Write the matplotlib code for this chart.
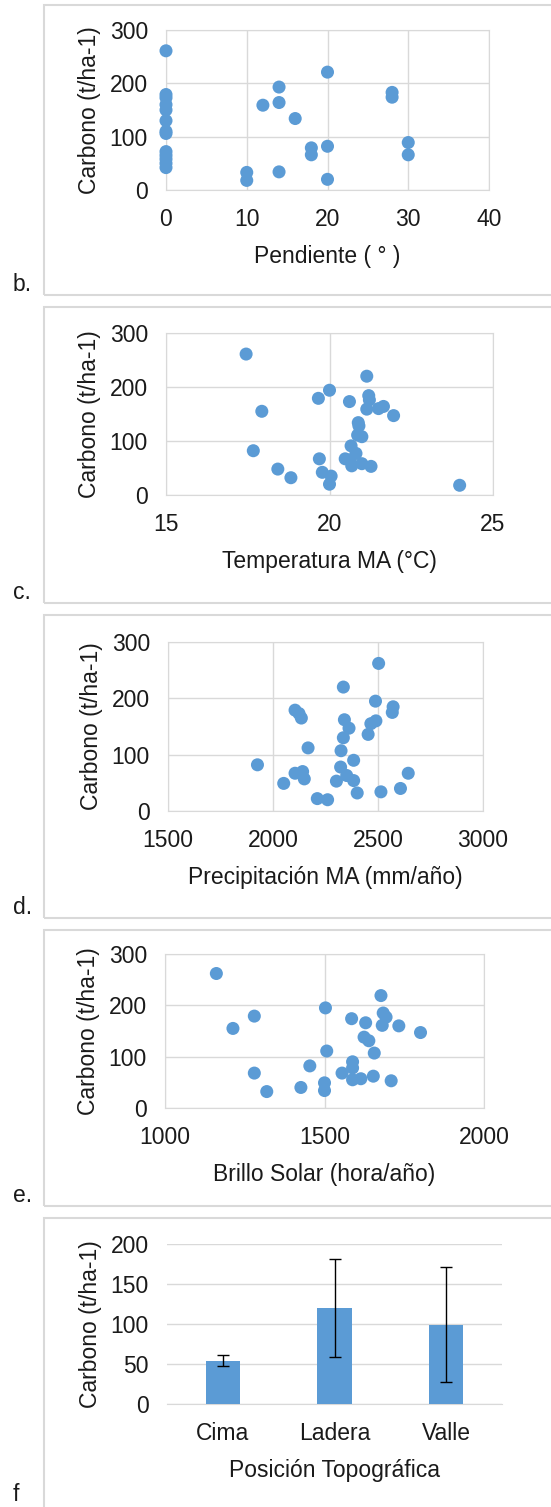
import numpy as np
import matplotlib
matplotlib.use("Agg")
import matplotlib.pyplot as plt
from matplotlib.patches import Rectangle

matplotlib.rcParams["font.family"] = ["Liberation Sans", "DejaVu Sans"]

# b. Pendiente
pend_x = [0, 0, 0, 0, 0, 0, 0, 0, 0, 0, 0, 0, 0, 10, 10, 12, 14, 14, 14, 16, 18, 18, 20, 20, 20, 28, 28, 30, 30]
pend_y = [261, 179, 173, 160, 150, 130, 110, 106, 72, 65, 58, 50, 42, 33, 18, 159, 193, 164, 34, 134, 79, 66, 221, 82, 20, 183, 174, 89, 66]

# c. Temperatura
temp_x = [17.45, 17.67, 17.93, 18.42, 18.82, 19.66, 19.69, 19.78, 20.0, 20.05, 20.0, 20.61, 20.48, 20.66,
          20.68, 20.81, 20.63, 20.88, 20.9, 20.86, 20.99, 20.99, 21.14, 21.2, 21.22, 21.14, 21.27, 21.5,
          21.65, 21.96, 23.98]
temp_y = [261, 82, 155, 48, 32, 179, 67, 42, 194, 35, 20, 173, 67, 91,
          54, 77, 65, 134, 128, 111, 108, 58, 220, 184, 176, 159, 53, 160,
          164, 147, 18]

# d. Precipitacion
prec_x = [2503, 2335, 2488, 2572, 2568, 2105, 2124, 2135, 2340, 2362, 2466, 2490, 2453, 2335, 2167, 2324,
          1926, 2384, 2322, 2105, 2141, 2149, 2051, 2351, 2384, 2302, 2644, 2607, 2514, 2401, 2211, 2260]
prec_y = [262, 220, 195, 185, 175, 179, 173, 165, 162, 147, 155, 160, 136, 130, 112, 107,
          82, 90, 78, 67, 70, 57, 49, 63, 54, 53, 67, 40, 34, 32, 22, 20]

# e. Brillo solar
sol_x = [1161, 1213, 1280, 1280, 1319, 1426, 1454, 1503, 1507, 1500, 1500, 1555, 1585, 1588, 1588,
         1588, 1614, 1629, 1624, 1639, 1656, 1653, 1677, 1684, 1693, 1681, 1709, 1733, 1801]
sol_y = [262, 155, 179, 68, 32, 40, 82, 195, 111, 49, 34, 68, 174, 90, 78,
         55, 57, 166, 138, 131, 107, 62, 219, 185, 177, 161, 53, 160, 147]

# f. Posicion topografica
pos_cat = ["Cima", "Ladera", "Valle"]
pos_val = [54, 120, 99]
pos_err = [7, 61, 72]

W, H = 551, 1507
fig = plt.figure(figsize=(W / 100, H / 100), dpi=100)
blue = "#5B9BD5"
grid = "#D9D9D9"
txt = "#1a1a1a"
fs = 16.5


def ax_at(x0, x1, y0, y1):
    return fig.add_axes([x0 / W, 1 - y1 / H, (x1 - x0) / W, (y1 - y0) / H])


def frame(y0, y1, lab, ylab=None):
    fig.patches.append(Rectangle((44 / W, 1 - y1 / H), 1.0, (y1 - y0) / H, transform=fig.transFigure,
                                 fill=False, edgecolor="#D9D9D9", lw=1.5))
    if ylab is None:
        ylab = y1 + 1
    fig.text(13 / W, 1 - ylab / H, lab, fontsize=fs, color=txt, ha="left", va="bottom")


def style(ax, xlabel):
    ax.grid(True, color=grid, lw=1)
    ax.set_axisbelow(True)
    for s in ax.spines.values():
        s.set_color(grid)
    ax.tick_params(length=0, labelsize=fs, labelcolor=txt, pad=13)
    ax.set_xlabel(xlabel, fontsize=fs, color=txt, labelpad=10)
    ax.set_ylabel("Carbono (t/ha-1)", fontsize=fs, color=txt, labelpad=6)


scat = [
    (pend_x, pend_y, (0, 40), [0, 10, 20, 30, 40], "Pendiente ( ° )", (166, 489, 30, 190), (5, 295, "b.")),
    (temp_x, temp_y, (15, 25), [15, 20, 25], "Temperatura MA (°C)", (166, 493, 333, 495), (307, 603, "c.")),
    (prec_x, prec_y, (1500, 3000), [1500, 2000, 2500, 3000], "Precipitación MA (mm/año)", (168, 483, 642, 811), (615, 918, "d.")),
    (sol_x, sol_y, (1000, 2000), [1000, 1500, 2000], "Brillo Solar (hora/año)", (165, 484, 954, 1108), (930, 1206, "e.")),
]

for xs, ys, xl, xt, xlab, box, fr in scat:
    frame(*fr)
    ax = ax_at(*box)
    ax.scatter(xs, ys, s=88, color=blue, edgecolors="none", zorder=3, clip_on=False)
    ax.set_xlim(*xl)
    ax.set_xticks(xt)
    ax.set_ylim(0, 300)
    ax.set_yticks([0, 100, 200, 300])
    style(ax, xlab)

# f. bars
frame(1218, 1530, "f", ylab=1506)
ax = ax_at(167, 502, 1244, 1404)
xpos = np.arange(len(pos_cat))
ax.bar(xpos, pos_val, width=0.31, color=blue, zorder=3)
ax.errorbar(xpos, pos_val, yerr=pos_err, fmt="none", ecolor="black", elinewidth=1, capsize=4.5, capthick=1, zorder=4)
ax.set_xlim(-0.5, 2.5)
ax.set_ylim(0, 200)
ax.set_yticks([0, 50, 100, 150, 200])
ax.set_xticks(xpos)
ax.set_xticklabels(pos_cat)
style(ax, "Posición Topográfica")
ax.grid(False, axis="x")
ax.spines["left"].set_visible(False)
ax.spines["right"].set_visible(False)
ax.spines["top"].set_visible(False)

fig.savefig("out.png", dpi=100)
